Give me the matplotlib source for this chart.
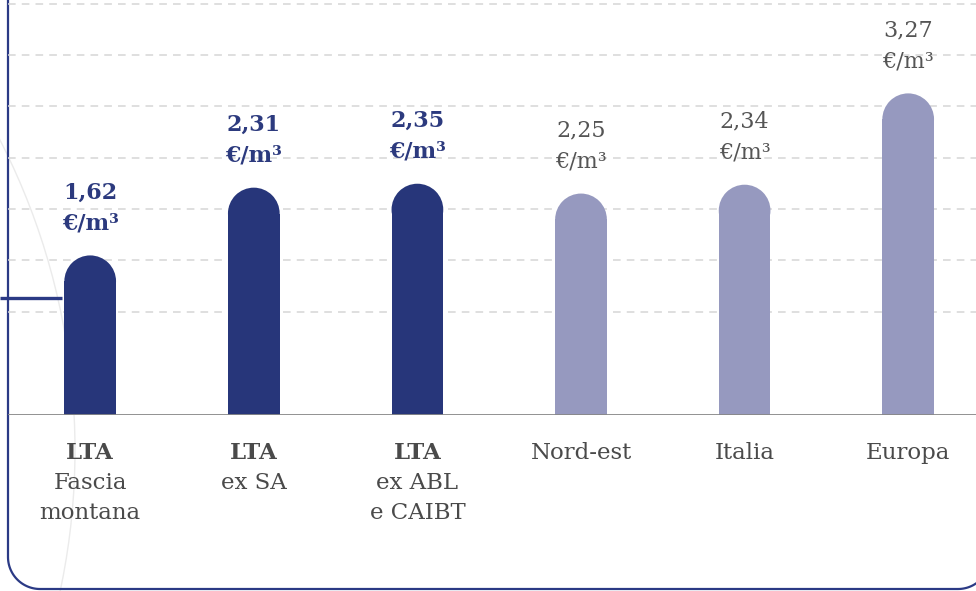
import numpy as np
import matplotlib
matplotlib.use("Agg")
import matplotlib.pyplot as plt
from matplotlib.patches import Ellipse, Circle

# dati
categorie_top = ["LTA", "LTA", "LTA", "", "", ""]
categorie_sotto = [["Fascia", "montana"], ["ex SA"], ["ex ABL", "e CAIBT"],
                   ["Nord-est"], ["Italia"], ["Europa"]]
valori = [1.62, 2.31, 2.35, 2.25, 2.34, 3.27]
etichette = ["1,62", "2,31", "2,35", "2,25", "2,34", "3,27"]
evidenziati = [True, True, True, False, False, False]
livelli_griglia = [1.04, 1.57, 2.09, 2.61, 3.14, 3.66, 4.18]

BLU = "#27367a"
LILLA = "#9699bf"
BLU_TXT = "#2c3a7e"
GRIGIO_TXT = "#555555"
CORNICE = "#2b3a85"
FONT = "DejaVu Serif"

W, H = 976, 591
PX_UNIT = 98.2          # pixel per unita' sull'asse y
BASE_Y = 414.5          # linea di base in pixel (dall'alto)
SPAZIO = 163.6          # distanza fra barre in pixel
X0 = 90.2               # centro prima barra
LEFT = 8

fig = plt.figure(figsize=(W / 100, H / 100), dpi=100)

# sfondo decorativo in coordinate pixel
bg = fig.add_axes([0, 0, 1, 1], zorder=0)
bg.set_xlim(0, W); bg.set_ylim(H, 0); bg.axis("off")
bg.add_patch(Circle((-603, 450), 678, fill=False, ec="#ebebeb", lw=1))

# cornice: lato sinistro, angoli arrotondati, lato inferiore
R, YB, XR = 32, 589, 990
t1 = np.linspace(np.pi, np.pi / 2, 30)
t2 = np.linspace(np.pi / 2, 0, 30)
xs = np.concatenate([[LEFT], LEFT + R + R * np.cos(t1), XR - R + R * np.cos(t2)])
ys = np.concatenate([[0], YB - R + R * np.sin(t1), YB - R + R * np.sin(t2)])
bg.plot(xs, ys, color=CORNICE, lw=1.6)
bg.plot([0, 62], [298, 298], color=CORNICE, lw=2.4, solid_capstyle="butt")

# grafico
ax = fig.add_axes([LEFT / W, (H - BASE_Y) / H, 1 - LEFT / W, BASE_Y / H], zorder=1)
ax.patch.set_alpha(0)
ax.set_xlim(-(X0 - LEFT) / SPAZIO, (W - X0) / SPAZIO)
ax.set_ylim(0, BASE_Y / PX_UNIT)
for s in ax.spines.values():
    s.set_visible(False)
ax.set_xticks([]); ax.set_yticks([])

ax.hlines(livelli_griglia, *ax.get_xlim(), colors="#d6d6d6", lw=1.1,
          linestyles=(0, (5, 4)), zorder=0)

larg = 51.7 / SPAZIO
ry = (51.7 / 2) / PX_UNIT
for i, v in enumerate(valori):
    c = BLU if evidenziati[i] else LILLA
    ax.bar(i, v - ry, width=larg, color=c, zorder=2, lw=0)
    ax.add_patch(Ellipse((i, v - ry), larg, 2 * ry, color=c, lw=0, zorder=2))

    col = BLU_TXT if evidenziati[i] else GRIGIO_TXT
    peso = "bold" if evidenziati[i] else "normal"
    ax.annotate(etichette[i], (i, v), xytext=(0, 41), textcoords="offset points",
                ha="center", va="baseline", fontsize=16, color=col,
                fontweight=peso, family=FONT)
    ax.annotate("€/m³", (i, v), xytext=(0, 18.7), textcoords="offset points",
                ha="center", va="baseline", fontsize=16, color=col,
                fontweight=peso, family=FONT)

    righe = ([(categorie_top[i], "bold")] if categorie_top[i] else []) + \
            [(r, "normal") for r in categorie_sotto[i]]
    for k, (t, w) in enumerate(righe):
        ax.annotate(t, (i, 0), xytext=(0, -(32 + 21.6 * k)),
                    textcoords="offset points", ha="center", va="baseline",
                    fontsize=16.5, color="#4a4a4a", fontweight=w, family=FONT,
                    annotation_clip=False)

ax.axhline(0, color="#888888", lw=2, zorder=3)

fig.savefig("out.png", dpi=100)
